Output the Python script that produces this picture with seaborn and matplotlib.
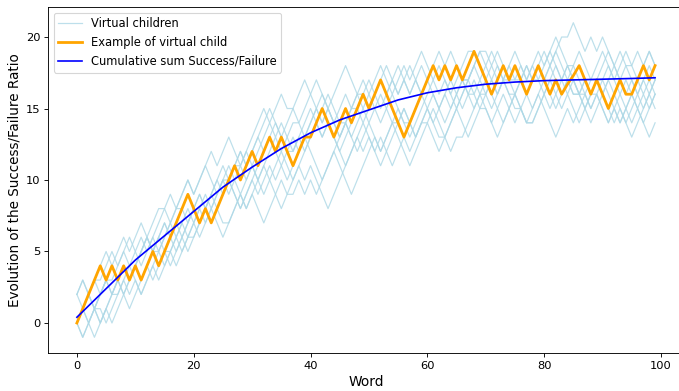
import numpy as np
import pandas as pd
import matplotlib
matplotlib.use("Agg")
import matplotlib.pyplot as plt
import seaborn as sns

# Ratio trajectory of one example child, word by word
example_child = [0, 1, 2, 3, 4, 3, 4, 3, 4, 3,
                 4, 3, 4, 5, 4, 5, 6, 7, 8, 9,
                 8, 7, 8, 7, 8, 9, 10, 11, 10, 11,
                 12, 11, 12, 13, 12, 13, 12, 11, 12, 13,
                 13, 14, 15, 14, 13, 14, 15, 14, 15, 16,
                 15, 16, 17, 16, 15, 14, 13, 14, 15, 16,
                 17, 18, 17, 18, 17, 18, 17, 18, 19, 18,
                 17, 16, 17, 18, 17, 18, 17, 16, 17, 18,
                 17, 16, 17, 16, 16.7, 17.3, 18, 17, 16, 17,
                 16, 15, 16, 17, 16, 16, 17, 18, 17, 18]

# Cumulative Success/Failure curve
cum_words = [0, 5, 10, 15, 20, 25, 30, 35, 40, 45, 50,
             55, 60, 65, 70, 75, 80, 85, 90, 95, 99]
cum_ratio = [0.4, 2.4, 4.4, 6.1, 7.8, 9.5, 10.9, 12.2, 13.3, 14.2, 14.9,
             15.6, 16.1, 16.45, 16.7, 16.85, 16.95, 17.0, 17.05, 17.1, 17.15]

# Virtual children: starting ratio and per-word outcome
# (u = success, d = failure, f = no change)
virtual_starts = [0, 2, 0, 0, 2, 0, 0, 0, 2, 0]
virtual_steps = [
    "uuduuduudu uudfuuduud uduuuduudu uuududduuu ddudduuuud uuduuddudu ddduuufuud udddfuudud dduudfudud uuddudduu",
    "udufuuduud uduuuduuud uuddufuudu uduuduuuud ddudduuudu uudduuduud ddudduuuuf ddudduuduu duufuddudu ddudfudud",
    "duuduufudu duuduuduuf uududfuudu dduuuduudu ddduuuuudu dudduuduuf udduudduuf duduuddfuu uddudduufd duduudduu",
    "uudduuuduu uuduududuu duduuudduu uuuddduuud dduuuuduud uuddfudduu ududuudfdu duufudduud uudduuddfu uddudduud",
    "uduuuduudu uduufuduud uuuduudduu uuduudfduu udduuuddfu dduuduuddu uudduddudu uuddfuduud udduddfduu dduuddudu",
    "duduuduudu uuduuduudu uuuduudduu duuduufudu ududdduuud dduuuudduu ddfuuuudud uudddfduud dduuduudud dudududdu",
    "uuduufuudu duuduuufdu uduuuduudu uuuddduduu ududuudfdu uuudduduud uduuddfudu dduuuddudu uuddfdduuu dduudduud",
    "udufduuuud duuuduuduu duudduuudu uudddufudu duuuddduuu uduuddduuu ddudufuuud dduuuddfuu duuudduduf uddduudud",
    "dduuuduudu uuduudduuu uduuduufud duuuduufdu uuddduuuud dduuddduuu uudduuufdd ddudduuufd uudduddduu uddduuudu",
    "uuuduudduu duuudfuudu uuduuudduu dduuudduuu uuuddfdduu dduuudfuud duuudduduf uduudfdduu uddudfduud ddudduuud",
]
step_value = {"u": 1, "d": -1, "f": 0}

frames = []
for child, (start, steps) in enumerate(zip(virtual_starts, virtual_steps)):
    moves = [step_value[c] for c in steps.replace(" ", "")]
    ratio = np.concatenate([[start], start + np.cumsum(moves)])
    frames.append(pd.DataFrame({"child": child,
                                "word": np.arange(len(ratio)),
                                "ratio": ratio}))
virtual = pd.concat(frames, ignore_index=True)

fig = plt.figure(figsize=(679 / 80, 391 / 80), dpi=80)
ax = fig.add_axes([48 / 679, 38 / 391, 636 / 679, 346 / 391])

for child, sub in virtual.groupby("child"):
    sns.lineplot(data=sub, x="word", y="ratio", ax=ax, color="lightblue",
                 linewidth=1.1, alpha=0.8,
                 label="Virtual children" if child == 0 else "_nolegend_")

sns.lineplot(x=np.arange(len(example_child)), y=example_child, ax=ax,
             color="orange", linewidth=2.5, label="Example of virtual child")
sns.lineplot(x=cum_words, y=cum_ratio, ax=ax, color="blue", linewidth=1.5,
             label="Cumulative sum Success/Failure")

ax.set_xlabel("Word", fontsize=12.4)
ax.set_ylabel("Evolution of the Success/Failure Ratio", fontsize=12.2)
ax.set_xticks([0, 20, 40, 60, 80, 100])
ax.set_yticks([0, 5, 10, 15, 20])
ax.tick_params(labelsize=10.3)
ax.legend(loc="upper left", fontsize=10.4)

fig.savefig("out.png", dpi=80)
